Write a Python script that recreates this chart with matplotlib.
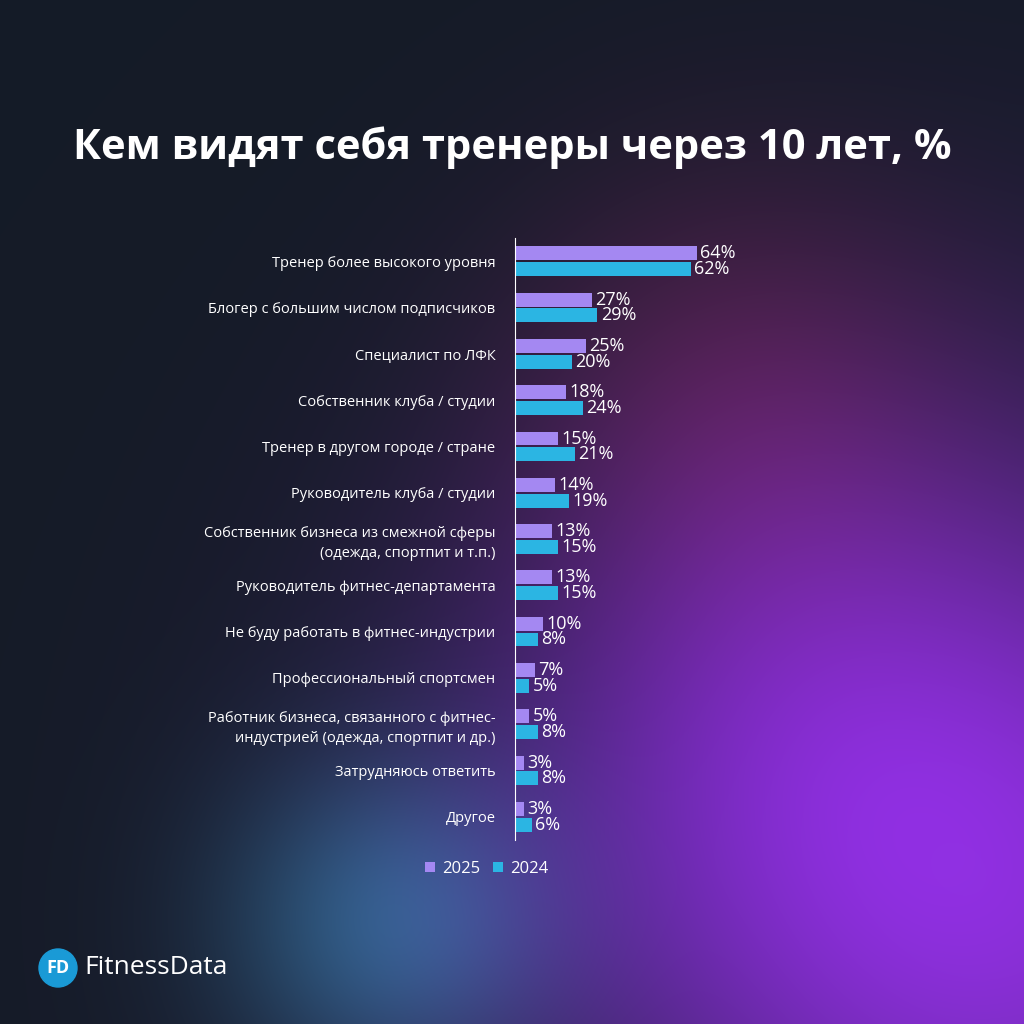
import numpy as np
import matplotlib
matplotlib.use("Agg")
import matplotlib.pyplot as plt
from matplotlib.patches import Circle

categories = ["Тренер более высокого уровня", "Блогер с большим числом подписчиков",
    "Специалист по ЛФК", "Собственник клуба / студии", "Тренер в другом городе / стране",
    "Руководитель клуба / студии", "Собственник бизнеса из смежной сферы\n(одежда, спортпит и т.п.)",
    "Руководитель фитнес-департамента", "Не буду работать в фитнес-индустрии",
    "Профессиональный спортсмен", "Работник бизнеса, связанного с фитнес-\nиндустрией (одежда, спортпит и др.)",
    "Затрудняюсь ответить", "Другое"]
v2025 = [64, 27, 25, 18, 15, 14, 13, 13, 10, 7, 5, 3, 3]
v2024 = [62, 29, 20, 24, 21, 19, 15, 15, 8, 5, 8, 8, 6]

W = 1024
fig = plt.figure(figsize=(10.24, 10.24), dpi=100)
bg = fig.add_axes([0, 0, 1, 1]); bg.axis("off")
yy, xx = np.mgrid[0:W, 0:W] / W
base = np.array([0.082, 0.106, 0.153])
img = np.ones((W, W, 3)) * base
def blob(cx, cy, r, col, s):
    d = np.exp(-(((xx-cx)**2 + (yy-cy)**2) / r**2))
    return d[..., None] * (np.array(col) - base) * s
img += blob(1.0, 0.9, 0.45, [0.50, 0.18, 0.78], 1.0)
img += blob(0.72, 0.38, 0.22, [0.30, 0.12, 0.22], 0.7)
img += blob(0.38, 0.9, 0.16, [0.15, 0.42, 0.52], 0.8)
img += blob(0.75, 0.7, 0.3, [0.33, 0.14, 0.55], 0.6)
bg.imshow(np.clip(img, 0, 1), extent=[0, 1, 0, 1], aspect="auto")
bg.set_xlim(0, 1); bg.set_ylim(0, 1)

fig.text(0.5, 1-148/W, "Кем видят себя тренеры через 10 лет, %", color="white",
         fontsize=30, fontweight="bold", ha="center", va="center", family="Open Sans")

ax = fig.add_axes([515/W, 1-840/W, 285/W, 602/W])
ax.patch.set_alpha(0)
y = np.arange(len(categories))
h = 0.3
ax.barh(y-0.17, v2025, height=h, color="#a488f2", label="2025")
ax.barh(y+0.17, v2024, height=h, color="#2bb5e3", label="2024")
for i in y:
    ax.text(v2025[i]+1.2, i-0.17, f"{v2025[i]}%", color="white", fontsize=13, va="center", family="Open Sans")
    ax.text(v2024[i]+1.2, i+0.17, f"{v2024[i]}%", color="white", fontsize=13, va="center", family="Open Sans")
ax.set_xlim(0, 100.35)
ax.set_ylim(len(categories)-0.5, -0.5)
ax.set_yticks(y)
ax.set_yticklabels(categories, color="white", fontsize=10.5, family="Open Sans", linespacing=1.45)
ax.tick_params(axis="y", length=0, pad=14)
ax.set_xticks([])
for s in ["top", "right", "bottom"]:
    ax.spines[s].set_visible(False)
ax.spines["left"].set_color("white")
ax.legend(loc="upper center", bbox_to_anchor=(-0.1, -0.01), ncol=2, frameon=False,
          handlelength=0.6, handleheight=0.6, columnspacing=0.8, handletextpad=0.4,
          labelcolor="white", prop={"family": "Open Sans", "size": 12})

bg.add_patch(Circle((58/W, 1-968/W), 19/W, color="#1a9ad6", transform=bg.transAxes))
bg.text(58/W, 1-968/W, "FD", color="white", fontsize=13, fontweight="bold", ha="center", va="center", family="Open Sans")
bg.text(84/W, 1-968/W, "FitnessData", color="white", fontsize=19, ha="left", va="center", family="Open Sans")
fig.savefig("out.png", dpi=100)
